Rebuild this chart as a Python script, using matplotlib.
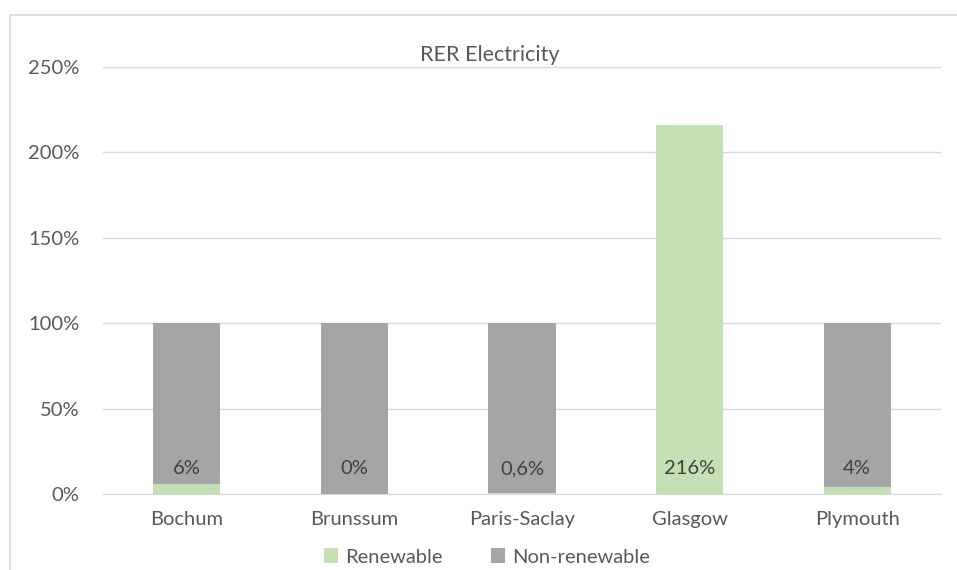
import matplotlib.pyplot as plt
from matplotlib.patches import Rectangle
from matplotlib.ticker import FuncFormatter

sites = ["Bochum", "Brunssum", "Paris-Saclay", "Glasgow", "Plymouth"]
renewable = [6, 0, 0.6, 216, 4]
non_renewable = [94, 100, 99.4, 0, 96]
labels = ["6%", "0%", "0,6%", "216%", "4%"]

plt.rcParams['font.family'] = ['Lato', 'DejaVu Sans']
txt = '#595959'
fs = 14.5

fig = plt.figure(figsize=(9.57, 5.70), dpi=100)
ax = fig.add_axes([103/957, 1 - 494/570, 838/957, 427/570])

x = range(len(sites))
ax.bar(x, renewable, width=0.4, color='#C5E0B4', label='Renewable', zorder=3)
ax.bar(x, non_renewable, width=0.4, bottom=renewable, color='#A5A5A5',
       label='Non-renewable', zorder=3)

for i, lab in enumerate(labels):
    ax.annotate(lab, (i, 0), xytext=(0, 18), textcoords='offset points',
                ha='center', va='center', fontsize=fs, color='#404040', zorder=4)

ax.set_xlim(-0.5, 4.5)
ax.set_ylim(0, 250)
ax.set_yticks([0, 50, 100, 150, 200, 250])
ax.yaxis.set_major_formatter(FuncFormatter(lambda v, p: f"{int(v)}%"))
ax.set_xticks(list(x))
ax.set_xticklabels(sites)
ax.tick_params(axis='both', length=0, labelsize=fs, labelcolor=txt)
ax.tick_params(axis='y', pad=17)
ax.tick_params(axis='x', pad=12)
ax.grid(axis='y', color='#D9D9D9', linewidth=1, zorder=0)
for s in ['top', 'right', 'left']:
    ax.spines[s].set_visible(False)
ax.spines['bottom'].set_color('#D9D9D9')

ax.text(490/957, 1 - 55/570, "RER Electricity", transform=fig.transFigure,
        ha='center', va='center', fontsize=15.5, color=txt)

fig.legend(loc='center', bbox_to_anchor=(487/957, 1 - 557/570), ncol=2, frameon=False,
           fontsize=fs, labelcolor=txt, handlelength=0.7, handleheight=0.7,
           handletextpad=0.35, columnspacing=2.4)

fig.patches.append(Rectangle((10/957, -0.1), 1.2, 1 - 15/570 + 0.1,
                             transform=fig.transFigure, fill=False,
                             edgecolor='#D9D9D9', linewidth=1.2))

fig.savefig('out.png', dpi=100)
